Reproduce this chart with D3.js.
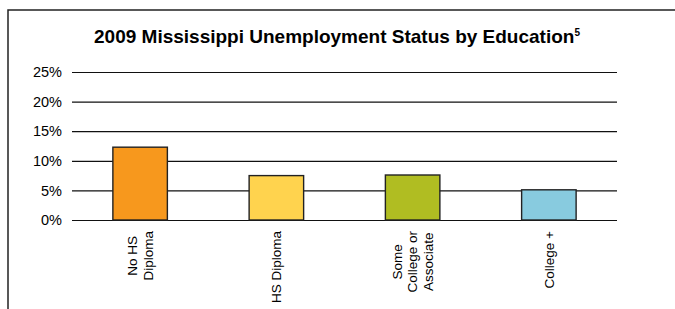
<!DOCTYPE html>
<html>
<head>
<meta charset="utf-8">
<script src="https://cdn.jsdelivr.net/npm/d3@7"></script>
<style>
  html, body { margin: 0; padding: 0; background: #fff; }
  svg { display: block; font-family: "Liberation Sans", Arial, sans-serif; }
</style>
</head>
<body>
<div id="chart"></div>
<script>
const categories = [['No HS', 'Diploma'], ['HS Diploma'], ['Some', 'College or', 'Associate'], ['College +']];
const rates = [0.123, 0.075, 0.076, 0.051];
const colors = ['#f7981d', '#ffd34e', '#b0bd22', '#88cbdf'];
const yTicks = [0, 0.05, 0.10, 0.15, 0.20, 0.25];

const width = 675, height = 309;
const svg = d3.select('#chart').append('svg')
  .attr('width', width).attr('height', height);

// outer frame (top + left edges visible)
svg.append('path')
  .attr('d', `M8,${height} V10 H${width}`)
  .attr('fill', 'none').attr('stroke', '#222').attr('stroke-width', 1.5);

// title
const title = svg.append('text')
  .attr('x', 337).attr('y', 43)
  .attr('text-anchor', 'middle')
  .attr('font-size', 19).attr('font-weight', 'bold').attr('fill', '#000');
title.append('tspan').text('2009 Mississippi Unemployment Status by Education');
title.append('tspan').attr('font-size', 10).attr('dy', -7).text('5');

const x = d3.scaleBand()
  .domain(d3.range(categories.length))
  .range([72, 617])
  .paddingInner(0.6).paddingOuter(0.3);

const y = d3.scaleLinear().domain([0, 0.25]).range([220, 72]);

// gridlines + tick labels
const yAxis = svg.append('g')
  .attr('transform', 'translate(72,0)')
  .call(d3.axisLeft(y).tickValues(yTicks).tickFormat(d3.format('.0%'))
    .tickSize(-(617 - 72)).tickPadding(10));
yAxis.select('.domain').remove();
yAxis.selectAll('.tick line').attr('stroke', '#111').attr('stroke-width', 1.2);
yAxis.selectAll('.tick text')
  .attr('font-size', 14.5).attr('fill', '#000')
  .attr('font-family', '"Liberation Sans", Arial, sans-serif');

// bars
svg.append('g').selectAll('rect')
  .data(rates)
  .join('rect')
  .attr('x', (d, i) => x(i))
  .attr('y', d => y(d))
  .attr('width', x.bandwidth())
  .attr('height', d => y(0) - y(d))
  .attr('fill', (d, i) => colors[i])
  .attr('stroke', '#222').attr('stroke-width', 1.4);

// rotated category labels
const labelTop = 231, lineGap = 15.5;
categories.forEach((lines, i) => {
  const cx = x(i) + x.bandwidth() / 2;
  const g = svg.append('g');
  const texts = lines.map((line, j) => g.append('text')
    .attr('font-size', 13.5).attr('fill', '#000')
    .attr('text-anchor', 'middle')
    .attr('dy', '0.35em')
    .text(line));
  const maxLen = d3.max(texts, t => t.node().getComputedTextLength());
  texts.forEach((t, j) => {
    const lx = cx + (j - (lines.length - 1) / 2) * lineGap;
    t.attr('transform', `translate(${lx},${labelTop + maxLen / 2}) rotate(-90)`);
  });
});
</script>
</body>
</html>
